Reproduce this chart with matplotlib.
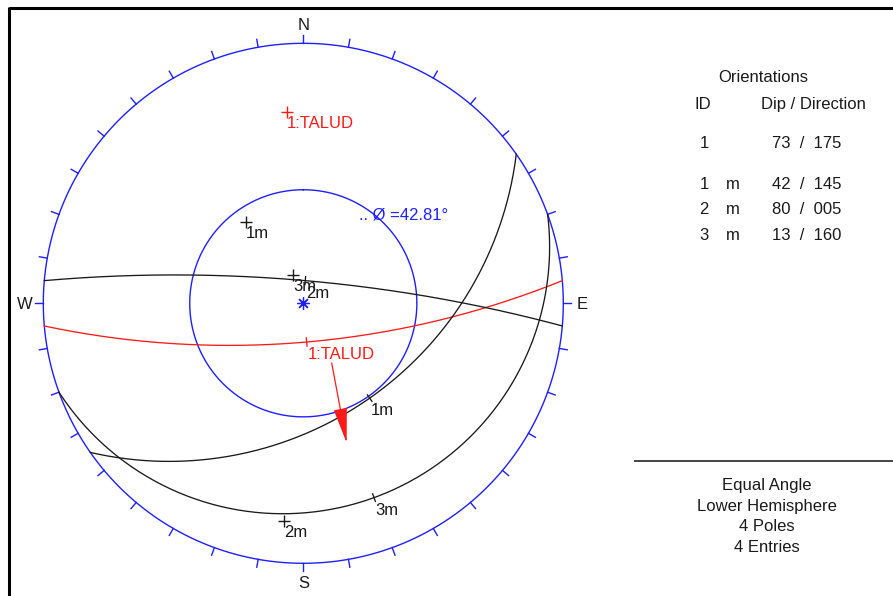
import numpy as np
import matplotlib.pyplot as plt
from matplotlib.lines import Line2D

plt.rcParams['font.family'] = ['Liberation Sans', 'DejaVu Sans']

# plane orientations (dip / dip direction)
plane_ids = ["1", "1", "2", "3"]
plane_tags = ["", "m", "m", "m"]
plane_names = ["1:TALUD", "1m", "2m", "3m"]
dips = [73, 42, 80, 13]
dip_dirs = [175, 145, 5, 160]
plane_colors = ["#ff1a1a", "#1a1a1a", "#1a1a1a", "#1a1a1a"]

friction_angle = 42.81
mean_trend, mean_plunge = 0, 90

summary = ["Equal Angle", "Lower Hemisphere", "4 Poles", "4 Entries"]

BLUE = "#1f1fff"
TXT = "#1a1a1a"


def project(trend, plunge):
    '''equal angle (stereographic) projection, lower hemisphere, unit primitive'''
    t = np.radians(trend)
    p = np.radians(plunge)
    r = np.tan((np.pi / 2 - p) / 2)
    return r * np.sin(t), r * np.cos(t)


def great_circle(dip, ddir, n=241):
    d = np.radians(dip)
    dd = np.radians(ddir)
    st = dd - np.pi / 2
    a = np.linspace(0, np.pi, n)
    north = np.cos(a) * np.cos(st) + np.sin(a) * np.cos(d) * np.cos(dd)
    east = np.cos(a) * np.sin(st) + np.sin(a) * np.cos(d) * np.sin(dd)
    down = np.sin(a) * np.sin(d)
    trend = np.degrees(np.arctan2(east, north))
    plunge = np.degrees(np.arcsin(np.clip(down, -1, 1)))
    return project(trend, plunge)


W, H = 893, 596
fig = plt.figure(figsize=(W / 100, H / 100), dpi=100)
cx, cy, R = 303.3, 303.3, 260.0
ax = fig.add_axes([(cx - R) / W, (H - cy - R) / H, 2 * R / W, 2 * R / H])
ax.set_xlim(-1, 1)
ax.set_ylim(-1, 1)
ax.axis('off')
px = 1.0 / R  # one pixel in stereonet units

# primitive circle with 10 degree ticks
th = np.linspace(0, 2 * np.pi, 721)
ax.plot(np.sin(th), np.cos(th), color=BLUE, lw=1.0, clip_on=False)
for az in range(0, 360, 10):
    s, c = np.sin(np.radians(az)), np.cos(np.radians(az))
    ax.plot([s, s * (1 + 8 * px)], [c, c * (1 + 8 * px)], color=BLUE, lw=1.0, clip_on=False)
for lab, az in zip("NESW", [0, 90, 180, 270]):
    s, c = np.sin(np.radians(az)), np.cos(np.radians(az))
    ax.text(s * (1 + 19 * px), c * (1 + 19 * px) - 1.5 * px, lab, ha='center', va='center',
            fontsize=12, color=TXT)

# friction circle
rf = np.tan(np.radians(90 - friction_angle) / 2)
ax.plot(rf * np.sin(th), rf * np.cos(th), color=BLUE, lw=1.0)
ax.text(56 * px, 88 * px, ".. Ø =%.2f°" % friction_angle, ha='left', va='center',
        fontsize=12, color=BLUE)

# great circles with dip tick and label
for name, d, dd, col in zip(plane_names, dips, dip_dirs, plane_colors):
    x, y = great_circle(d, dd)
    ax.plot(x, y, color=col, lw=0.95)
    dx, dy = project(dd, d)
    s, c = np.sin(np.radians(dd)), np.cos(np.radians(dd))
    ax.plot([dx - s * 4 * px, dx + s * 4 * px], [dy - c * 4 * px, dy + c * 4 * px], color=col, lw=0.95)
    ax.annotate(name, (dx, dy), xytext=(1, -12.5), textcoords='offset pixels',
                ha='left', va='center', fontsize=12, color=col)

# poles
for name, d, dd, col in zip(plane_names, dips, dip_dirs, plane_colors):
    x, y = project(dd + 180, 90 - d)
    ax.plot(x, y, marker='+', ms=9, mew=1.0, color=col, ls='none')
    ax.annotate(name, (x, y), xytext=(0, -11.5), textcoords='offset pixels',
                ha='left', va='center', fontsize=12, color=col)

mx, my = project(mean_trend, mean_plunge)
ax.plot(mx, my, marker=(8, 2, 0), ms=9, mew=0.9, color=BLUE, ls='none')

# dip arrow under the slope label
tx, ty = project(dip_dirs[0], dips[0])
ax.annotate("", xy=(tx + 40 * px, ty - 101 * px), xytext=(tx + 25 * px, ty - 21 * px),
            arrowprops=dict(arrowstyle='-|>,head_length=2.2,head_width=0.42',
                            color=plane_colors[0], lw=0.9, shrinkA=0, shrinkB=0,
                            mutation_scale=10))

# frame lines
fig.add_artist(Line2D([8.8 / W, 8.8 / W], [0, 1 - 7 / H], transform=fig.transFigure,
                      color='black', lw=2.2, solid_capstyle='butt'))
fig.add_artist(Line2D([8.8 / W, 1], [1 - 8 / H, 1 - 8 / H], transform=fig.transFigure,
                      color='black', lw=2.2, solid_capstyle='butt'))
fig.add_artist(Line2D([635 / W, 1], [1 - 461 / H, 1 - 461 / H], transform=fig.transFigure,
                      color='#444444', lw=1.4))


def ftext(x, y, s, ha='center'):
    fig.text(x / W, 1 - (y + 1.5) / H, s, ha=ha, va='center', fontsize=12, color=TXT)


# orientations table
ftext(763, 76, "Orientations")
ftext(703, 103, "ID")
ftext(813, 103, "Dip / Direction")
row_y = [142, 183, 208, 234]
for pid, tag, d, dd, yy in zip(plane_ids, plane_tags, dips, dip_dirs, row_y):
    ftext(704, yy, pid)
    if tag:
        ftext(733, yy, tag)
    ftext(772, yy, "%d  /  %03d" % (d, dd), ha='left')

for i, s in enumerate(summary):
    ftext(767, 484 + i * 20.7, s)

fig.savefig("out.png", dpi=100, facecolor='white')
